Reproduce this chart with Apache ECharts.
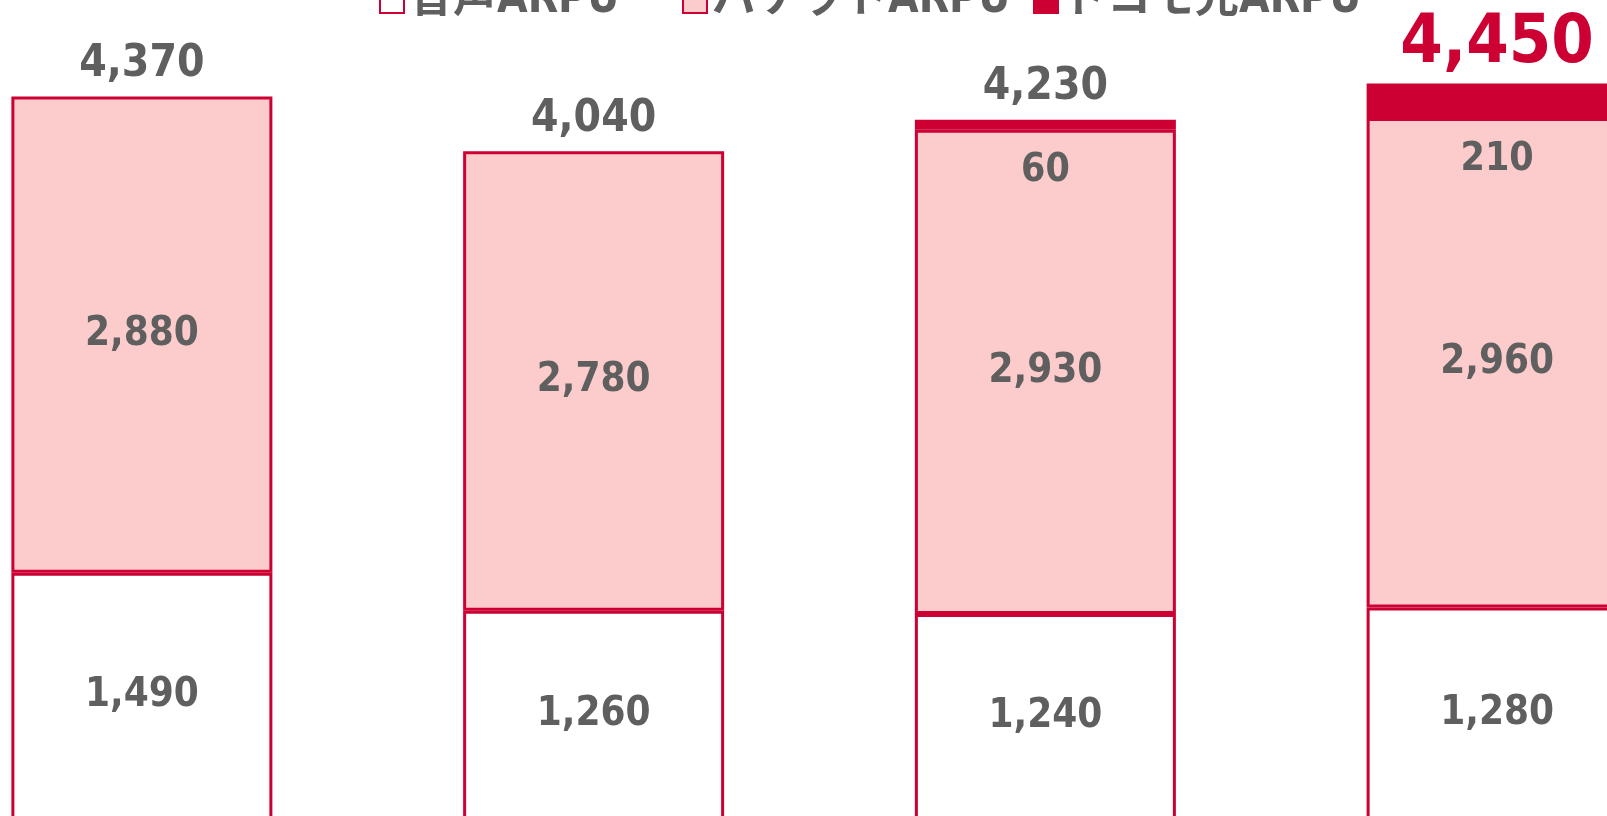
<!DOCTYPE html>
<html>
<head>
<meta charset="utf-8">
<script src="https://cdn.jsdelivr.net/npm/echarts@6/dist/echarts.min.js"></script>
<style>
    html, body { margin: 0; padding: 0; background: #fff; }
    #chart { width: 1607px; height: 816px; }
</style>
</head>
<body>
<div id="chart"></div>
<script>
    // ARPU内訳（円）
    var categories = ['2013年度', '2014年度', '2015年度', '2016年度'];
    var seriesNames = ['音声ARPU', 'パケットARPU', 'ドコモ光ARPU'];
    var voiceArpu = [1490, 1260, 1240, 1280];
    var packetArpu = [2880, 2780, 2930, 2960];
    var hikariArpu = [null, null, 60, 210];
    var totalArpu = [4370, 4040, 4230, 4450];

    var RED = '#cc0033';
    var PINK = '#fccbcb';
    var GREY = '#5f5f5f';
    var FONT = "'DejaVu Sans Condensed', 'DejaVu Sans', 'Noto Sans CJK JP', sans-serif";

    function fmt(v) {
        return v == null ? '' : v.toLocaleString('en-US');
    }

    var innerLabel = {
        show: true,
        position: 'inside',
        color: GREY,
        fontFamily: FONT,
        fontWeight: 'bold',
        fontSize: 40,
        formatter: function (p) { return fmt(p.value); }
    };

    // 凡例は項目ごとに配置
    var legendLeft = [374, 677, 1028];
    var legends = seriesNames.map(function (name, i) {
        return {
            data: [name],
            left: legendLeft[i],
            top: -26,
            itemWidth: 24,
            itemHeight: 24,
            icon: 'rect',
            textStyle: {
                color: GREY,
                fontFamily: FONT,
                fontWeight: 'bold',
                fontSize: 44
            }
        };
    });

    var chart = echarts.init(document.getElementById('chart'));
    chart.setOption({
        animation: false,
        legend: legends,
        grid: {
            left: -84,
            width: 1807,
            top: 9,
            height: 810,
            outerBoundsMode: 'none',
            containLabel: false
        },
        xAxis: {
            type: 'category',
            data: categories,
            show: false
        },
        yAxis: {
            type: 'value',
            min: 0,
            max: 4900,
            show: false
        },
        series: [
            {
                name: seriesNames[0],
                type: 'bar',
                stack: 'arpu',
                barWidth: 261,
                data: voiceArpu,
                itemStyle: { color: '#ffffff', borderColor: RED, borderWidth: 3 },
                label: innerLabel
            },
            {
                name: seriesNames[1],
                type: 'bar',
                stack: 'arpu',
                data: packetArpu,
                itemStyle: { color: PINK, borderColor: RED, borderWidth: 3 },
                label: innerLabel
            },
            {
                name: seriesNames[2],
                type: 'bar',
                stack: 'arpu',
                data: hikariArpu,
                itemStyle: { color: RED, borderColor: RED, borderWidth: 3 },
                label: {
                    show: true,
                    position: 'bottom',
                    distance: 22,
                    color: GREY,
                    fontFamily: FONT,
                    fontWeight: 'bold',
                    fontSize: 39,
                    formatter: function (p) { return fmt(p.value); }
                }
            },
            {
                // 合計ラベル用
                name: '合計',
                type: 'bar',
                stack: 'arpu',
                data: totalArpu.map(function (v, i) {
                    var item = { value: 0 };
                    if (i === totalArpu.length - 1) {
                        item.label = { color: RED, fontSize: 68, distance: 5 };
                    }
                    return item;
                }),
                itemStyle: { color: 'transparent', borderWidth: 0 },
                label: {
                    show: true,
                    position: 'top',
                    distance: 10,
                    color: GREY,
                    fontFamily: FONT,
                    fontWeight: 'bold',
                    fontSize: 44,
                    formatter: function (p) { return fmt(totalArpu[p.dataIndex]); }
                }
            }
        ]
    });
</script>
</body>
</html>
